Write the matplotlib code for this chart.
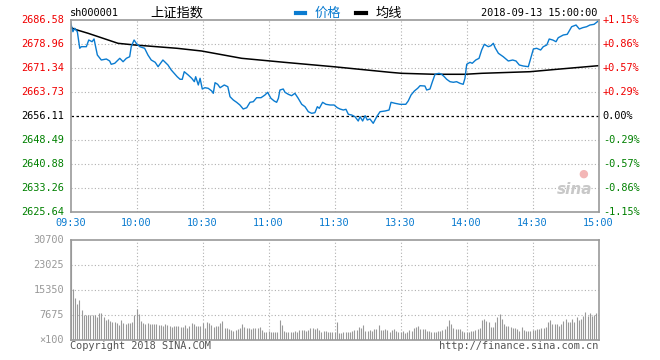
import matplotlib
matplotlib.use("Agg")
import matplotlib.pyplot as plt

# price line, minutes from 09:30 (11:30 and 13:00 share minute 120)
price_min = [0, 1.1, 1.9, 3.1, 4.2, 4.9, 7.2, 8.3, 9.8, 10.7, 12.2, 14, 16.3, 17.8, 18.5, 20.1,
             22.4, 23.9, 25.4, 26.9, 27.6, 28.9, 29.9, 31.5, 33.7, 35.2, 36.7, 38.5, 39.8, 42,
             44.3, 45.8, 48.5, 49.8, 50.8, 51.7, 53.5, 55.1, 56.3, 56.9, 58.1, 58.9, 59.9, 61.1,
             62.6, 64.2, 64.9, 65.7, 66.9, 68, 69.9, 71.5, 72.5, 74, 75.5, 77, 78.5, 80.1, 81.6,
             83.1, 84.6, 86.6, 88.4, 89.6, 91.1, 92.6, 93.7, 94.5, 95.2, 96.7, 97.5, 99, 100.5,
             102, 103.5, 105.1, 106.6, 108.1, 109.6, 111.1, 112.2, 113.1, 114.6, 116.1, 118,
             119.8, 121.3, 122.5, 124, 125.2, 126.3, 127.8, 129.3, 130.8, 131.6, 132.8, 133.9,
             134.9, 136.1, 137.6, 139.2, 140.7, 143, 144.8, 145.7, 147.5, 149.8, 152.4, 153.5,
             154.8, 156.3, 157.8, 158.9, 161.1, 161.9, 163.4, 164.5, 165.7, 167.5, 168.7, 169.9,
             171, 172.5, 174, 175.5, 177, 178.5, 179.3, 180.1, 181.6, 182.6, 184.2, 185.7, 186.9,
             188.1, 189.9, 191.1, 192.2, 193, 194.5, 196.7, 199, 201, 202.5, 204, 205.8, 208.1,
             209.2, 210.4, 211.9, 213.7, 214.9, 216.5, 217.6, 219.2, 220.7, 221.7, 224, 225.8,
             227.8, 229.8, 231.3, 232.8, 234.6, 236.1, 238, 239.5, 240]
price_val = [2685.9, 2682.87, 2683.95, 2682.87, 2677.60, 2678.11, 2678.11, 2680.23, 2679.69,
             2680.55, 2675.47, 2673.88, 2674.20, 2673.57, 2672.52, 2672.84, 2674.42, 2673.34,
             2674.42, 2674.93, 2678.11, 2680.23, 2679.18, 2678.11, 2677.60, 2675.47, 2673.88,
             2673.15, 2671.76, 2673.88, 2672.30, 2670.71, 2668.58, 2667.76, 2667.76, 2670.17,
             2669.12, 2668.08, 2667.00, 2668.58, 2665.95, 2668.08, 2664.68, 2665.09, 2664.90,
             2664.05, 2663.31, 2666.68, 2666.17, 2665.09, 2665.95, 2665.41, 2662.24, 2661.19,
             2660.46, 2659.60, 2658.33, 2658.74, 2660.46, 2660.65, 2661.92, 2661.92, 2662.78,
             2663.63, 2661.73, 2660.87, 2660.46, 2661.73, 2664.36, 2664.68, 2663.63, 2663.00,
             2662.55, 2663.31, 2661.73, 2659.82, 2659.06, 2657.47, 2656.97, 2657.16, 2659.06,
             2658.55, 2660.46, 2659.82, 2659.60, 2659.60, 2658.74, 2658.33, 2658.01, 2658.24,
             2656.65, 2656.43, 2655.89, 2654.52, 2655.89, 2654.52, 2656.21, 2654.84, 2655.16,
             2653.79, 2655.89, 2657.47, 2657.70, 2658.01, 2660.46, 2660.14, 2659.82, 2659.82,
             2660.87, 2662.78, 2664.05, 2664.90, 2665.73, 2665.63, 2664.36, 2664.68, 2667.00,
             2669.35, 2669.66, 2669.35, 2668.58, 2667.76, 2667.00, 2666.81, 2667.00, 2666.49,
             2666.17, 2668.08, 2672.52, 2673.15, 2672.84, 2673.88, 2674.42, 2677.06, 2678.87,
             2678.11, 2678.42, 2679.18, 2677.79, 2676.01, 2674.93, 2673.57, 2673.88, 2673.57,
             2672.30, 2671.98, 2671.76, 2674.42, 2677.38, 2677.60, 2677.06, 2678.11, 2678.65,
             2680.55, 2680.23, 2679.69, 2680.96, 2681.82, 2682.04, 2684.45, 2684.99, 2683.72,
             2684.14, 2684.45, 2684.99, 2685.21, 2686.04, 2686.58]

avg_min = [0.2, 3, 8, 14, 21.6, 29.2, 48.4, 59.6, 77.8, 97.2, 119.5, 145.2, 150.5, 165.7,
           179.3, 186.9, 208.9, 221, 231.6, 240]
avg_val = [2684.14, 2683.41, 2682.36, 2680.96, 2679.18, 2678.65, 2677.60, 2676.74, 2674.42,
           2673.15, 2671.76, 2669.98, 2669.66, 2669.35, 2669.35, 2669.66, 2670.17, 2670.93,
           2671.57, 2672.08]

# volume per minute (x100)
volume = [30700, 15650, 12900, 11050, 12280, 9200, 7675, 7675, 7675, 7675, 7675, 7675, 7060,
          8200, 8200, 7060, 6140, 6450, 5940, 5630, 5420, 5120, 4600, 6140, 5120, 4810, 5120,
          5120, 5420, 7675, 9520, 7880, 5840, 5120, 4810, 5120, 4810, 4810, 5000, 4810, 4600,
          4600, 4400, 4810, 4600, 4400, 4100, 4400, 4400, 4400, 4100, 4100, 4600, 3780, 4400,
          5120, 4810, 4400, 4400, 4400, 5120, 3780, 5430, 5120, 4600, 4100, 4400, 4400, 5120,
          5840, 3590, 3590, 3380, 3070, 2760, 2980, 3380, 3590, 4810, 4100, 3590, 3590, 3380,
          3590, 3590, 3780, 4100, 3070, 2550, 2550, 2760, 2360, 2360, 2550, 2550, 6140, 4600,
          2760, 2550, 2360, 2360, 2550, 2760, 2550, 2980, 2980, 3070, 2760, 2980, 3590, 3590,
          3380, 3590, 3070, 2550, 2760, 2760, 2360, 2360, 2360, 2360,
          5430, 2050, 2050, 2360, 2360, 2360, 2360, 2760, 3070, 3070, 4100, 3780, 4600, 2760,
          2760, 3070, 2760, 3380, 3380, 4600, 3070, 3070, 3380, 3070, 2550, 3070, 3380, 2760,
          2550, 2550, 2760, 2050, 2360, 3070, 2760, 3790, 3990, 4400, 3380, 3380, 3380, 2760,
          2760, 2550, 2550, 2550, 2760, 2760, 3070, 3380, 4400, 6140, 4810, 3790, 3380, 3380,
          3380, 2760, 2550, 2550, 2550, 2760, 2760, 3070, 3380, 3590, 6140, 6450, 5840, 5630,
          4100, 4100, 5530, 6960, 7880, 6450, 4810, 4400, 4400, 4100, 3790, 3590, 3380, 2760,
          4100, 3070, 2760, 2760, 2760, 3070, 3070, 3380, 3380, 3790, 3590, 4100, 5630, 6140,
          4810, 4810, 4810, 4400, 4810, 5940, 6450, 5430, 5630, 6450, 5430, 6960, 6140, 6450,
          7470, 8710, 7470, 8290, 7470, 7780, 8290, 7780, 9110, 500]

price_ticks = [2686.58, 2678.96, 2671.34, 2663.73, 2656.11, 2648.49, 2640.88, 2633.26, 2625.64]
pct_ticks = ["+1.15%", "+0.86%", "+0.57%", "+0.29%", "0.00%", "-0.29%", "-0.57%", "-0.86%", "-1.15%"]
time_labels = ["09:30", "10:00", "10:30", "11:00", "11:30", "13:30", "14:00", "14:30", "15:00"]
vol_ticks = [30700, 23025, 15350, 7675]

prev_close = 2656.11
blue = "#0a7bd0"
red = "#f00000"
green = "#008000"
grid_c = "#b0b0b0"
frame_c = "#999999"
mono = "DejaVu Sans Mono"

fig = plt.figure(figsize=(6.6, 3.6), dpi=100)
ax = fig.add_axes([70.5 / 660, 1 - 212 / 360, 528 / 660, 192 / 360])
axv = fig.add_axes([70.5 / 660, 1 - 340 / 360, 528 / 660, 100 / 360])

# price panel
ax.set_xlim(0, 240)
ax.set_ylim(price_ticks[-1], price_ticks[0])
for t in range(30, 240, 30):
    ax.axvline(t, color=grid_c, lw=0.8, ls=(0, (1, 2)))
for p in price_ticks[1:-1]:
    if p == prev_close:
        ax.axhline(p, color="black", lw=0.9, ls=(0, (2, 2)))
    else:
        ax.axhline(p, color=grid_c, lw=0.8, ls=(0, (1, 2)))
ax.plot(avg_min, avg_val, color="black", lw=1.1)
ax.plot(price_min, price_val, color=blue, lw=1.0)
for s in ax.spines.values():
    s.set_color(frame_c)
    s.set_linewidth(1.2)
ax.set_xticks([])
ax.set_yticks([])

for i, p in enumerate(price_ticks):
    c = red if p > prev_close else (green if p < prev_close else "black")
    ax.text(-0.012, p, "%.2f" % p, transform=ax.get_yaxis_transform(), ha="right",
            va="center", color=c, fontsize=7.4, family=mono)
    ax.text(1.008, p, pct_ticks[i], transform=ax.get_yaxis_transform(), ha="left",
            va="center", color=c, fontsize=7.4, family=mono)
for i, lab in enumerate(time_labels):
    ax.text(i * 30, -0.055, lab, transform=ax.get_xaxis_transform(), ha="center",
            va="center", color=blue, fontsize=7.4, family=mono)

# header
fig.text(70 / 660, 1 - 13 / 360, "sh000001", ha="left", va="center", fontsize=7.4,
         family=mono, color="black")
fig.text(150 / 660, 1 - 13 / 360, "上证指数", ha="left", va="center", fontsize=9.5,
         family=["Noto Sans CJK SC", "DejaVu Sans"], color="black")
fig.add_artist(plt.Line2D([296 / 660, 305 / 660], [1 - 13 / 360] * 2, color=blue, lw=3))
fig.text(315 / 660, 1 - 13 / 360, "价格", ha="left", va="center", fontsize=9.5,
         family=["Noto Sans CJK SC", "DejaVu Sans"], color=blue)
fig.add_artist(plt.Line2D([356 / 660, 366 / 660], [1 - 13 / 360] * 2, color="black", lw=3))
fig.text(376 / 660, 1 - 13 / 360, "均线", ha="left", va="center", fontsize=9.5,
         family=["Noto Sans CJK SC", "DejaVu Sans"], color="black")
fig.text(597 / 660, 1 - 13 / 360, "2018-09-13 15:00:00", ha="right", va="center",
         fontsize=7.4, family=mono, color="black")

# sina watermark
ax.text(0.955, 0.115, "sina", transform=ax.transAxes, ha="center", va="center",
        fontsize=11, style="italic", weight="bold", color="#c8c8c8")
ax.text(0.972, 0.2, "●", transform=ax.transAxes, ha="center", va="center",
        fontsize=8, color="#f3b6b6")

# volume panel
axv.set_xlim(0, 240)
axv.set_ylim(0, vol_ticks[0])
for t in range(30, 240, 30):
    axv.axvline(t, color=grid_c, lw=0.8, ls=(0, (1, 2)))
for v in vol_ticks[1:]:
    axv.axhline(v, color=grid_c, lw=0.8, ls=(0, (1, 2)))
axv.vlines(range(len(volume)), 0, volume, color=frame_c, lw=0.8)
for s in axv.spines.values():
    s.set_color(frame_c)
    s.set_linewidth(1.2)
axv.set_xticks([])
axv.set_yticks([])
for v in vol_ticks:
    axv.text(-0.012, v, str(v), transform=axv.get_yaxis_transform(), ha="right",
             va="center", color=frame_c, fontsize=7.4, family=mono)
axv.text(-0.012, 0, "×100", transform=axv.get_yaxis_transform(), ha="right",
         va="center", color=frame_c, fontsize=7.4, family=mono)

fig.text(70 / 660, 1 - 346 / 360, "Copyright 2018 SINA.COM", ha="left", va="center",
         fontsize=7.4, family=mono, color="#555555")
fig.text(598 / 660, 1 - 346 / 360, "http://finance.sina.com.cn", ha="right", va="center",
         fontsize=7.4, family=mono, color="#555555")

fig.savefig("out.png", dpi=100)
